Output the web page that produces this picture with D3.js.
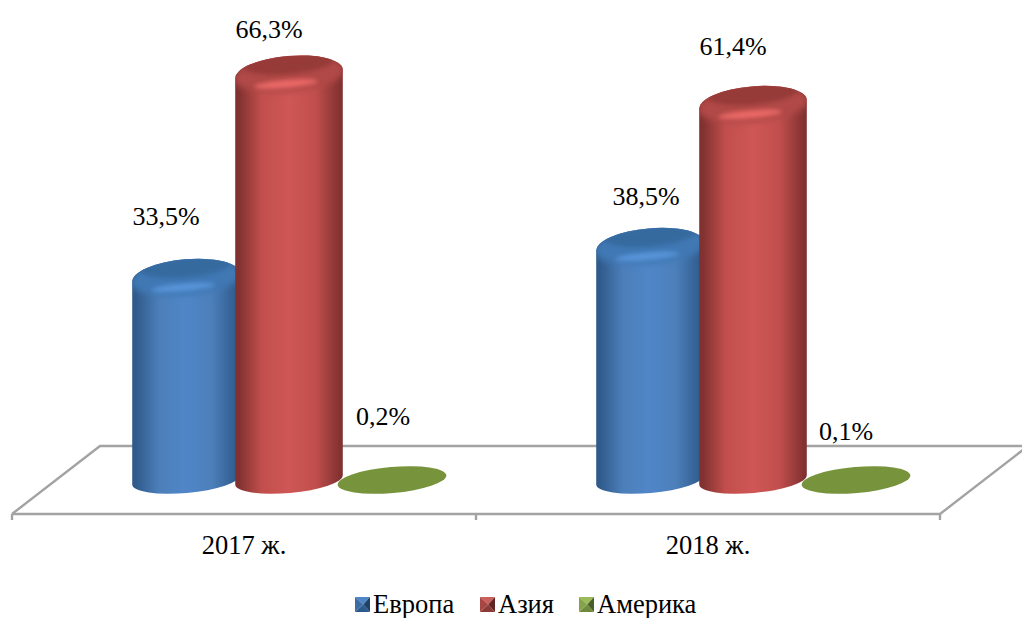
<!DOCTYPE html>
<html><head><meta charset="utf-8">
<script src="https://cdnjs.cloudflare.com/ajax/libs/d3/7.8.5/d3.min.js"></script>
<style>html,body{margin:0;padding:0;background:#fff;overflow:hidden}svg{display:block}text{font-family:"Liberation Serif",serif;fill:#000}</style>
</head><body><svg id="c" width="1022" height="618"></svg>
<script>
const categories = ["2017 ж.", "2018 ж."];
const seriesNames = ["Европа", "Азия", "Америка"];
const europe = [33.5, 38.5];
const asia = [66.3, 61.4];
const america = [0.2, 0.1];
const seriesValues = [europe, asia, america];
const valueLabels = [["33,5%", "38,5%"], ["66,3%", "61,4%"], ["0,2%", "0,1%"]];

// styles and layout tuning, separate from the data
const palette = [
  {edge:"#2f5a8b", mid:"#5086c8", mid2:"#4c7fba", cap:"#356a9f", shoulder:"#4178b4", glow:"#5a96dc", swatch:["#4f86c6","#3a6ea5","#2c5a8c","#1f4266"]},
  {edge:"#803130", mid:"#cf5755", mid2:"#c24f4d", cap:"#963b39", shoulder:"#b04846", glow:"#f06c69", swatch:["#c9605c","#a84644","#8c3a38","#5f2624"]},
  {edge:"#77933c", mid:"#77933c", mid2:"#77933c", cap:"#77933c", shoulder:"#77933c", glow:"#77933c", swatch:["#9bbb59","#86a34a","#6f8a3c","#4a5e28"]}
];
const labelNudge = [[[-20,-47],[-4,-36]],[[-20,-31],[-20,-44]],[[-9,-54],[-10,-39]]];

const svg = d3.select("#c");
const defs = svg.append("defs");
const rx = 54, ry = 13, ryTop = 18, topDrop = 5, tilt = 5, rad = tilt*Math.PI/180;
const depthX = 45;
const floorFront = 514, floorBack = 446, baseY = 480;

const x0 = d3.scaleBand().domain(categories).range([12, 940]);
const x1 = d3.scalePoint().domain(seriesNames).range([-103, 103]);
const y = d3.scaleLinear().domain([0, 70]).range([baseY, baseY - 434]);

palette.forEach((p, i) => {
  const g = defs.append("linearGradient").attr("id","g"+i);
  [[0,p.edge],[.03,p.edge],[.25,p.mid2],[.5,p.mid],[.74,p.mid2],[.98,p.edge],[1,p.edge]].forEach(s =>
    g.append("stop").attr("offset",s[0]).attr("stop-color",s[1]));
});
defs.append("filter").attr("id","b2").attr("x","-20%").attr("y","-60%").attr("width","140%").attr("height","220%")
  .append("feGaussianBlur").attr("stdDeviation",2);
defs.append("filter").attr("id","b3").attr("x","-20%").attr("y","-60%").attr("width","140%").attr("height","220%")
  .append("feGaussianBlur").attr("stdDeviation",3);

// floor
const floor = svg.append("g").attr("fill","none").attr("stroke","#a3a3a3").attr("stroke-width",2.4);
const axisLeft = x0.range()[0], axisRight = x0.range()[1], floorShift = 88;
floor.append("path").attr("d", d3.line()([[axisLeft,floorFront],[axisLeft+floorShift,floorBack],[1022,floorBack]]));
floor.append("path").attr("d", d3.line()([[axisLeft,floorFront],[axisRight,floorFront],[axisRight+floorShift,floorBack]]));
const tickXs = [x0.range()[0], x0(categories[1]), x0.range()[1]];
floor.selectAll("line").data(tickXs).join("line").attr("x1",d=>d).attr("x2",d=>d)
  .attr("y1",floorFront).attr("y2",floorFront+6);

// bars
const dx = rx*Math.cos(rad), dy = rx*Math.sin(rad);
const bars = svg.append("g");
categories.forEach((cat, ci) => {
  const cx0 = x0(cat) + x0.bandwidth()/2 + depthX;
  seriesNames.forEach((name, si) => {
    const v = seriesValues[si][ci], p = palette[si];
    const cx = cx0 + x1(name), top = y(v), tc = top + topDrop;
    const g = bars.append("g");
    if (si === 2) {
      g.append("ellipse").attr("rx",rx+0.5).attr("ry",ry)
        .attr("transform",`translate(${cx},${baseY}) rotate(${-tilt})`).attr("fill",p.cap);
      return;
    }
    const dPath = `M${cx-dx},${tc+dy} A${rx},${ryTop} ${-tilt} 0 1 ${cx+dx},${tc-dy}`
      + ` L${cx+dx},${baseY-dy} A${rx},${ry} ${-tilt} 0 1 ${cx-dx},${baseY+dy} Z`;
    const clipId = `cl${ci}${si}`;
    defs.append("clipPath").attr("id",clipId).append("path").attr("d",dPath);
    g.append("path").attr("d",dPath).attr("fill",`url(#g${si})`);
    const inner = g.append("g").attr("clip-path",`url(#${clipId})`);
    inner.append("ellipse").attr("rx",rx+2).attr("ry",ryTop)
      .attr("transform",`translate(${cx},${tc}) rotate(${-tilt})`)
      .attr("fill",p.shoulder).attr("filter","url(#b3)");
    inner.append("ellipse").attr("rx",32).attr("ry",4)
      .attr("transform",`translate(${cx-3},${top+15}) rotate(${-tilt})`)
      .attr("fill",p.glow).attr("opacity",.9).attr("filter","url(#b2)");
    inner.append("ellipse").attr("rx",rx-9).attr("ry",ry-3)
      .attr("transform",`translate(${cx},${top-5}) rotate(${-tilt})`)
      .attr("fill",p.cap).attr("filter","url(#b2)");
  });
});

// value labels
seriesNames.forEach((name, si) => {
  categories.forEach((cat, ci) => {
    const cx = x0(cat) + x0.bandwidth()/2 + depthX + x1(name);
    svg.append("text").attr("x",cx + labelNudge[si][ci][0]).attr("y",y(seriesValues[si][ci]) + labelNudge[si][ci][1])
      .attr("text-anchor","middle").attr("font-size",26).text(valueLabels[si][ci]);
  });
});

// category labels
svg.selectAll("text.cat").data(categories).join("text").attr("class","cat")
  .attr("x",d=>x0(d)+x0.bandwidth()/2).attr("y",554).attr("text-anchor","middle").attr("font-size",26.5).text(d=>d);

// legend
const legendX = [355, 480, 579];
const sw = 15, sy = 597;
seriesNames.forEach((name, i) => {
  const lx = legendX[i], c = palette[i].swatch;
  const tl=[lx,sy], tr=[lx+sw,sy], br=[lx+sw,sy+sw], bl=[lx,sy+sw], mc=[lx+sw*0.55,sy+sw/2];
  [[tl,tr,mc,c[0]],[tr,br,mc,c[3]],[br,bl,mc,c[2]],[bl,tl,mc,c[1]]].forEach(t =>
    svg.append("path").attr("d",d3.line()([t[0],t[1],t[2]])+"Z").attr("fill",t[3]));
  svg.append("text").attr("x",lx+sw+3).attr("y",613).attr("font-size",26.5).text(name);
});
</script></body></html>
